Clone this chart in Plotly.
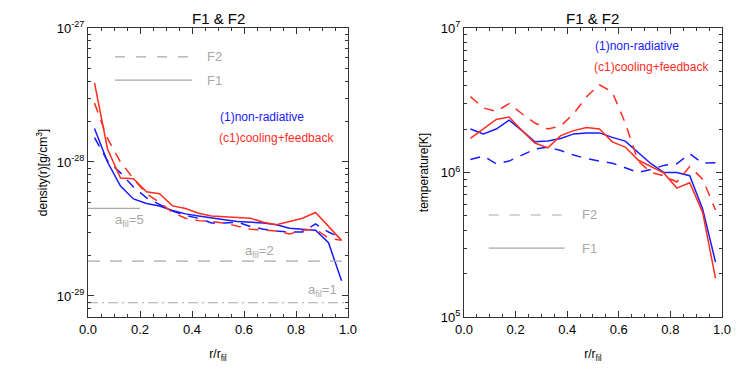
import plotly.graph_objects as go

# radial bins r/r_fil
r_bins = [0.025, 0.075, 0.125, 0.175, 0.225, 0.275, 0.325, 0.375, 0.425, 0.475,
          0.525, 0.575, 0.625, 0.675, 0.725, 0.775, 0.825, 0.875, 0.925, 0.975]

# density profiles [g/cm^3]
rho_nr_f1 = [1.78e-28, 1.0e-28, 6.6e-29, 5.3e-29, 4.9e-29, 4.7e-29, 4.35e-29, 4.1e-29, 3.95e-29, 3.8e-29,
             3.7e-29, 3.6e-29, 3.55e-29, 3.5e-29, 3.4e-29, 3.2e-29, 3.15e-29, 3.1e-29, 2.5e-29, 1.3e-29]
rho_nr_f2 = [1.52e-28, 1.02e-28, 8.3e-29, 6.5e-29, 5.4e-29, 4.8e-29, 4.3e-29, 4.0e-29, 3.8e-29, 3.5e-29,
             3.5e-29, 3.55e-29, 3.3e-29, 3.15e-29, 3.05e-29, 3.0e-29, 3.0e-29, 3.45e-29, 3.0e-29, 2.7e-29]
rho_cf_f1 = [3.9e-28, 1.25e-28, 7.6e-29, 7.5e-29, 6.0e-29, 5.8e-29, 4.7e-29, 4.5e-29, 4.15e-29, 3.95e-29,
             3.9e-29, 3.85e-29, 3.8e-29, 3.55e-29, 3.4e-29, 3.6e-29, 3.8e-29, 4.2e-29, 3.3e-29, 2.6e-29]
rho_cf_f2 = [2.75e-28, 1.5e-28, 1.0e-28, 7.5e-29, 5.8e-29, 5.0e-29, 4.2e-29, 3.8e-29, 3.65e-29, 3.6e-29,
             3.5e-29, 3.3e-29, 3.15e-29, 3.1e-29, 3.05e-29, 2.9e-29, 3.1e-29, 3.15e-29, 2.7e-29, 2.6e-29]

# temperature profiles [K]
T_nr_f1 = [2.0e6, 1.85e6, 2.0e6, 2.3e6, 1.95e6, 1.63e6, 1.65e6, 1.72e6, 1.85e6, 1.88e6,
           1.88e6, 1.75e6, 1.65e6, 1.37e6, 1.15e6, 1.0e6, 1.0e6, 9.5e5, 5.6e5, 2.4e5]
T_nr_f2 = [1.23e6, 1.3e6, 1.15e6, 1.2e6, 1.32e6, 1.45e6, 1.5e6, 1.42e6, 1.32e6, 1.25e6,
           1.2e6, 1.16e6, 1.08e6, 1.0e6, 1.05e6, 1.12e6, 1.15e6, 1.35e6, 1.16e6, 1.17e6]
T_cf_f1 = [1.72e6, 2.0e6, 2.33e6, 2.42e6, 1.95e6, 1.6e6, 1.48e6, 1.8e6, 1.95e6, 2.05e6,
           2.0e6, 1.63e6, 1.5e6, 1.22e6, 1.1e6, 9.9e5, 7.8e5, 8.5e5, 5.3e5, 1.85e5]
T_cf_f2 = [3.35e6, 2.8e6, 2.65e6, 3.0e6, 2.55e6, 2.2e6, 2.0e6, 2.1e6, 2.55e6, 3.35e6,
           4.05e6, 3.6e6, 2.2e6, 1.2e6, 1.0e6, 9.5e5, 8.6e5, 1.1e6, 9.0e5, 5.5e5]

# reference filament densities for a_fil = 5, 2, 1
afil_values = [5, 2, 1]
afil_rho = [4.5e-29, 1.82e-29, 8.9e-30]
afil_xend = [0.2, 1.0, 1.0]

BLUE = "#1a1aff"
RED = "#ff2d1f"
GRAY = "#a8a8a8"
DASH = "10px,8px"
FONT = "Liberation Sans, Arial, sans-serif"

fig = go.Figure()

panels = [
    ("x", "y", [(rho_nr_f1, BLUE, "solid"), (rho_nr_f2, BLUE, DASH),
                (rho_cf_f1, RED, "solid"), (rho_cf_f2, RED, DASH)]),
    ("x2", "y2", [(T_nr_f1, BLUE, "solid"), (T_nr_f2, BLUE, DASH),
                  (T_cf_f1, RED, "solid"), (T_cf_f2, RED, DASH)]),
]
for xa, ya, series in panels:
    for vals, col, dash in series:
        fig.add_trace(go.Scatter(x=r_bins, y=vals, mode="lines", xaxis=xa, yaxis=ya,
                                 line=dict(color=col, width=1.5, dash=dash),
                                 showlegend=False, hoverinfo="skip"))

# a_fil reference levels
afil_dash = ["solid", "12px,10px", "10px,4px,2px,4px"]
for val, rho, xe, d in zip(afil_values, afil_rho, afil_xend, afil_dash):
    fig.add_trace(go.Scatter(x=[0, xe], y=[rho, rho], mode="lines", xaxis="x", yaxis="y",
                             line=dict(color=GRAY, width=1.2, dash=d),
                             showlegend=False, hoverinfo="skip"))

ann = []
shapes = []

def key(xr, yr, x0, x1, y, dash, label):
    shapes.append(dict(type="line", xref=xr, yref=yr + " domain", x0=x0, x1=x1, y0=y, y1=y,
                       line=dict(color=GRAY, width=1.2, dash=dash)))
    ann.append(dict(xref=xr, yref=yr + " domain", x=0.45, y=y, text=label, showarrow=False,
                    xanchor="left", yanchor="middle", font=dict(color=GRAY, size=13)))

key("x", "y", 0.104, 0.40, 0.900, "10px,11px", "F2")
key("x", "y", 0.104, 0.40, 0.820, "solid", "F1")
key("x2", "y2", 0.096, 0.39, 0.353, "10px,11px", "F2")
key("x2", "y2", 0.096, 0.39, 0.238, "solid", "F1")

for xr, yr, x, y1, y2 in [("x", "y", 0.50, 0.692, 0.619), ("x2", "y2", 0.50, 0.938, 0.865)]:
    ann.append(dict(xref=xr, yref=yr + " domain", x=x, y=y1, text="(1)non-radiative",
                    showarrow=False, xanchor="left", yanchor="middle",
                    font=dict(color=BLUE, size=12)))
    ann.append(dict(xref=xr, yref=yr + " domain", x=x - 0.005, y=y2, text="(c1)cooling+feedback",
                    showarrow=False, xanchor="left", yanchor="middle",
                    font=dict(color=RED, size=12)))

for val, x, y in zip(afil_values, [0.16, 0.66, 0.90], [0.333, 0.228, 0.09]):
    ann.append(dict(xref="x", yref="y domain", x=x, y=y, showarrow=False,
                    xanchor="center", yanchor="middle",
                    text="a<sub>fil</sub>=%d" % val, font=dict(color=GRAY, size=13)))

for xr in ["x", "x2"]:
    ann.append(dict(xref=xr + " domain", yref="paper", x=0.5, y=1.0, yanchor="top",
                    text="F1 & F2", showarrow=False, font=dict(size=15, color="black")))


def log_minor(e0, e1):
    return [k * 10.0 ** e for e in range(e0, e1) for k in range(2, 10)]


xaxis_common = dict(range=[0, 1], tickvals=[0, 0.2, 0.4, 0.6, 0.8, 1.0],
                    ticktext=["0.0", "0.2", "0.4", "0.6", "0.8", "1.0"],
                    ticks="inside", ticklen=6, tickcolor="#333", showline=True, linecolor="#333",
                    linewidth=1, mirror="ticks", showgrid=False, zeroline=False, automargin=False,
                    minor=dict(tickmode="linear", tick0=0, dtick=0.05, ticks="inside",
                               ticklen=3, tickcolor="#333"),
                    title=dict(text="r/r<sub>fil</sub>", font=dict(size=12), standoff=14),
                    tickfont=dict(size=13))
yaxis_common = dict(type="log", ticks="inside", ticklen=6, tickcolor="#333", showline=True,
                    linecolor="#333", linewidth=1, mirror="ticks", showgrid=False, zeroline=False,
                    automargin=False, tickfont=dict(size=13))

# the page body adds an 8px offset, so domains are shifted to land on the target pixels
fig.update_layout(
    width=747, height=374,
    margin=dict(l=0, r=0, t=0, b=0),
    paper_bgcolor="white", plot_bgcolor="white",
    font=dict(family=FONT, color="black"),
    xaxis=dict(domain=[0.1071, 0.4552], anchor="y", **xaxis_common),
    xaxis2=dict(domain=[0.6104, 0.9558], anchor="y2", **xaxis_common),
    yaxis=dict(domain=[0.1738, 0.9465], anchor="x", range=[-29.157, -27],
               tickvals=[1e-29, 1e-28, 1e-27],
               ticktext=["10<sup>-29</sup>", "10<sup>-28</sup>", "10<sup>-27</sup>"],
               minor=dict(tickmode="array", tickvals=log_minor(-30, -27), ticks="inside",
                          ticklen=3, tickcolor="#333"),
               title=dict(text="density(r)[g/cm<sup>3</sup>]", font=dict(size=12), standoff=6),
               **yaxis_common),
    yaxis2=dict(domain=[0.1738, 0.9465], anchor="x2", range=[5, 7],
                tickvals=[1e5, 1e6, 1e7],
                ticktext=["10<sup>5</sup>", "10<sup>6</sup>", "10<sup>7</sup>"],
                minor=dict(tickmode="array", tickvals=log_minor(5, 7), ticks="inside",
                           ticklen=3, tickcolor="#333"),
                title=dict(text="temperature[K]", font=dict(size=12), standoff=9),
                **yaxis_common),
    annotations=ann,
    shapes=shapes,
)

fig.write_html("out.html")
